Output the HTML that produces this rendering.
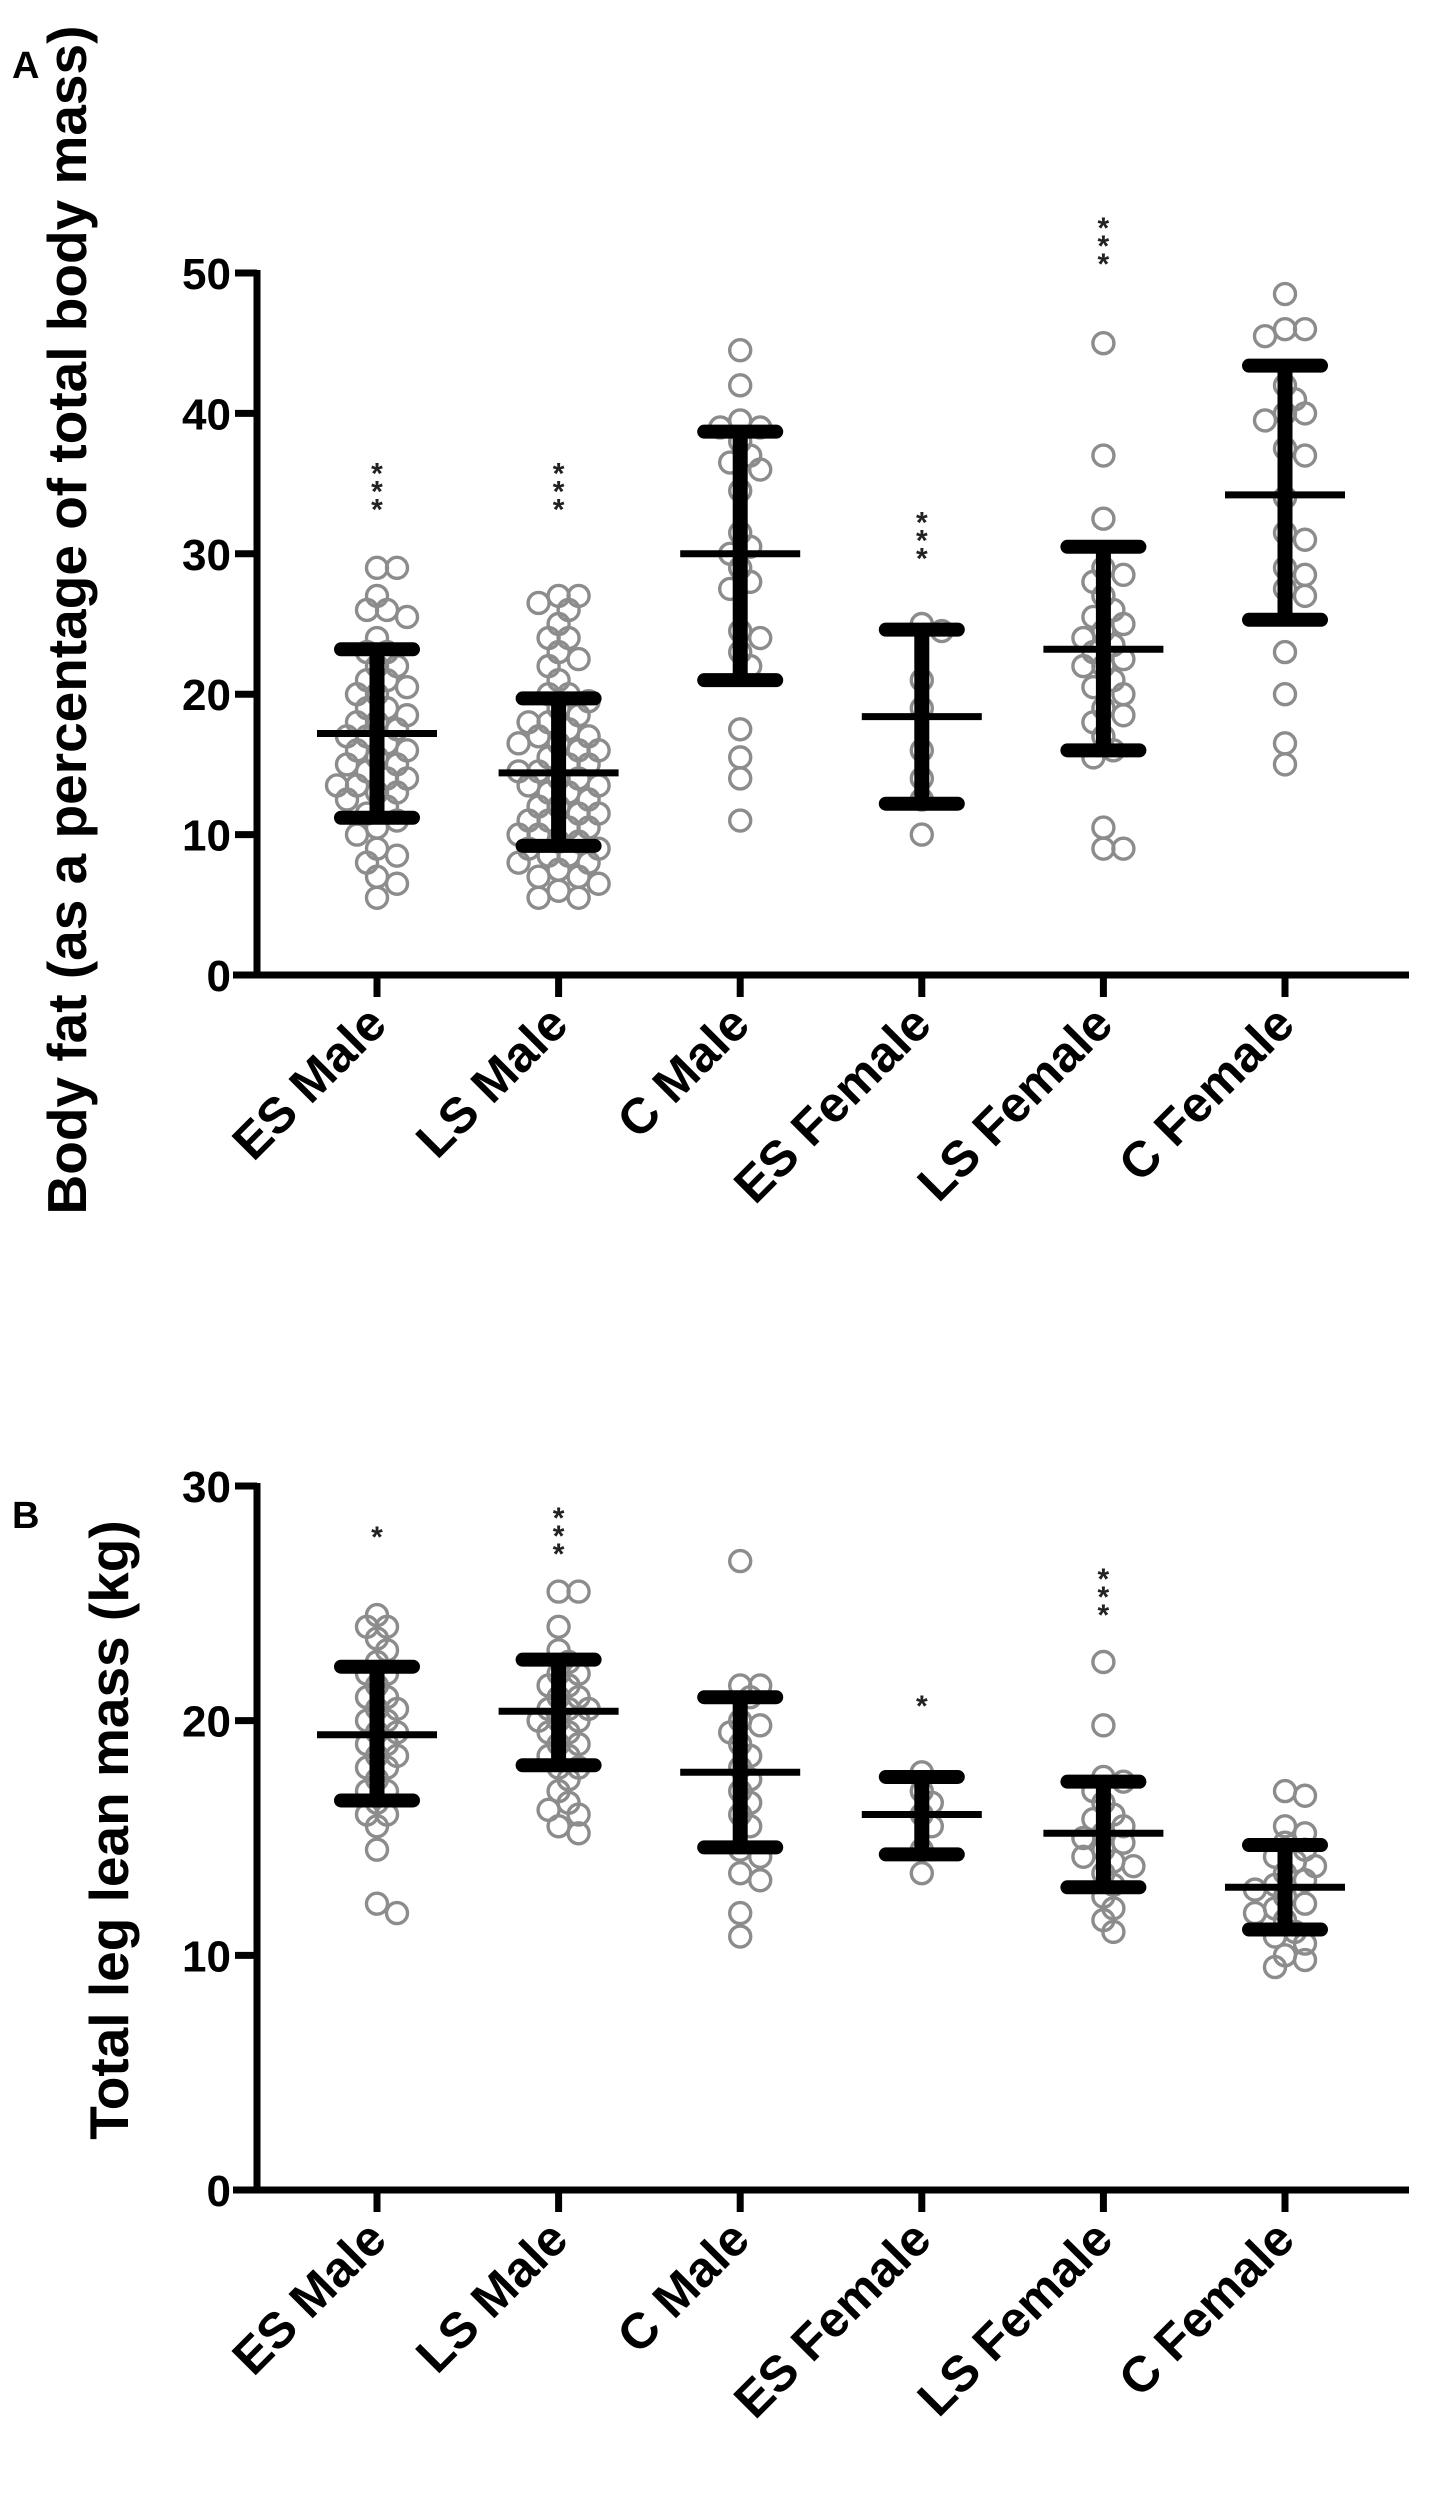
<!DOCTYPE html>
<html><head><meta charset="utf-8"><style>
html,body{margin:0;padding:0;background:#fff;width:1449px;height:2500px;overflow:hidden}
svg{display:block;font-family:"Liberation Sans",Arial,sans-serif}
</style></head><body>
<svg id="fig" width="1449" height="2500" viewBox="0 0 1449 2500"></svg>
<script>
const categories = ["ES Male","LS Male","C Male","ES Female","LS Female","C Female"];
// Panel A data
const fatMean = [17.2,14.4,30.0,18.4,23.2,34.2];
const fatLow  = [11.2,9.2,21.0,12.2,16.0,25.3];
const fatHigh = [23.2,19.7,38.7,24.6,30.5,43.4];
const fatStars = ["***","***","","***","***",""];
const fatStarY = [36,36,0,32.5,53.5,0];
const fatPts0 = [29,29,27,26,26,25.5,24,23,23,22,22,21,21,20.5,20,20,19,19,18.5,18,18,17.5,17,17,16.5,16,16,15.5,15,15,14.5,14,14,13.5,13.5,13,13,12.5,12,11.5,11,10.5,10,9,8.5,8,7,6.5,5.5];
const fatPts1 = [27,27,26.5,26,25,24,24,23,22.5,22,21,20,20,19.5,19,18.5,18,18,17.5,17,17,16.5,16.5,16,16,15.5,15,15,14.5,14.5,14,14,13.5,13.5,13,13,12.5,12,12,11.5,11.5,11,11,10.5,10.5,10,10,9.5,9.5,9,9,8.5,8.5,8,8,7.5,7,7,6.5,6,5.5,5.5];
const fatPts2 = [44.5,42,39.5,39,39,38,37,36.5,36,34.5,31.5,30.5,30,29,28,27.5,24.5,24,23,22,17.5,15.5,14,11];
const fatPts3 = [25,24.5,21,19,16,14,12.5,10];
const fatPts4 = [45,37,32.5,29,28.5,28,27,26,25.5,25,24.5,24,23.5,23,22.5,22,22,21,20.5,20,19,18.5,18,17,16,15.5,10.5,9,9];
const fatPts5 = [48.5,46,46,45.5,42,41,40,40,39.5,37.5,37,34,31.5,31,29,28.5,27.5,27,23,20,16.5,15];
const fatTicks = [0,10,20,30,40,50];
// Panel B data
const legMean = [19.4,20.4,17.8,16.0,15.2,12.9];
const legLow  = [16.6,18.1,14.6,14.3,12.9,11.1];
const legHigh = [22.3,22.6,21.0,17.6,17.4,14.7];
const legStars = ["*","***","","*","***",""];
const legStarY = [28,28.8,0,20.8,26.2,0];
const legPts0 = [24.5,24,24,23.5,23,22.5,22,22,21.5,21,21,20.5,20.5,20,20,19.5,19.5,19,19,18.5,18.5,18,18,17.5,17,17,16.5,16,16,15.5,14.5,12.2,11.8];
const legPts1 = [25.5,25.5,24,23,22.5,22,22,21.5,21.5,21,21,20.5,20.5,20.5,20,20,20,19.5,19.5,19,19,18.5,18.5,18,18,17.5,17,16.5,16.2,16,15.5,15.2];
const legPts2 = [26.8,21.5,21.5,21,20,19.8,19.5,19,18.5,18,17.5,17,16.5,16,15.5,14.5,14.2,13.5,13.2,11.8,10.8];
const legPts3 = [17.8,17,16.5,16,15.5,14.5,13.5];
const legPts4 = [22.5,19.8,17.6,17.4,17,16.5,16,15.8,15.5,15.2,15,14.8,14.5,14.2,14,13.8,13.5,13,12.5,12,11.5,11];
const legPts5 = [17,16.8,15.5,15.2,14.8,14.5,14.2,14,13.8,13.5,13.2,13,12.8,12.5,12.2,12,11.8,11.5,11,10.8,10.5,10,9.8,9.5];
const legTicks = [0,10,20,30];

const NS="http://www.w3.org/2000/svg";
const svg=document.getElementById('fig');
function mk(tag,attrs,parent){const e=document.createElementNS(NS,tag);for(const k in attrs)e.setAttribute(k,attrs[k]);(parent||svg).appendChild(e);return e;}

function panel(cfg){
  const g=mk('g',{});
  
  
  const x0=257,x1=1409;
  const xs=i=>377+i*181.6;
  const ys=v=>cfg.y0-(v-cfg.vmin)/(cfg.vmax-cfg.vmin)*(cfg.y0-cfg.yTop);
  cfg.pts.forEach((arr,i)=>{
    const placed=[];
    arr.forEach(v=>{
      const y=ys(v);let off=0;
      for(let k=0;k<40;k++){
        const o=(k%2?1:-1)*Math.ceil(k/2)*10;
        if(placed.every(p=>Math.hypot(p[0]-o,p[1]-y)>=15)){off=o;break;}
      }
      placed.push([off,y]);
      const c=mk('circle',{cx:xs(i)+off,cy:y,r:10.5,fill:'none',stroke:'#8c8c8c','stroke-width':3.4},g);
      
      
    });
  });
  categories.forEach((c,i)=>{
    const x=xs(i);
    const eb=mk('g',{},g);
    
    
    mk('line',{x1:x,x2:x,y1:ys(cfg.low[i]),y2:ys(cfg.high[i]),stroke:'#000','stroke-width':15},eb);
    mk('line',{x1:x-36,x2:x+36,y1:ys(cfg.low[i]),y2:ys(cfg.low[i]),stroke:'#000','stroke-width':14,'stroke-linecap':'round'},eb);
    mk('line',{x1:x-36,x2:x+36,y1:ys(cfg.high[i]),y2:ys(cfg.high[i]),stroke:'#000','stroke-width':14,'stroke-linecap':'round'},eb);
    const m=mk('line',{x1:x-60,x2:x+60,y1:ys(cfg.mean[i]),y2:ys(cfg.mean[i]),stroke:'#000','stroke-width':7},g);
    
    
    if(cfg.stars[i]){
      const n=cfg.stars[i].length;
      for(let s=0;s<n;s++){
        const t=mk('text',{x:x,y:ys(cfg.starY[i])+s*18+14,'text-anchor':'middle','font-size':30,'font-weight':'bold',fill:'#222'},g);
        t.textContent='*';
        
        
      }
    }
    mk('line',{x1:x,x2:x,y1:cfg.y0,y2:cfg.y0+22,stroke:'#000','stroke-width':7},g);
    const lx=x+12,ly=cfg.y0+52;
    const lab=mk('text',{x:lx,y:ly,transform:`rotate(-45 ${lx} ${ly})`,'text-anchor':'end','font-size':50,'font-weight':'bold',fill:'#000'},g);
    lab.textContent=c;
    
    
  });
  const ya=mk('line',{x1:x0,x2:x0,y1:cfg.yTop-3,y2:cfg.y0+3,stroke:'#000','stroke-width':7},g);
  
  
  const xa=mk('line',{x1:x0-24,x2:x1,y1:cfg.y0,y2:cfg.y0,stroke:'#000','stroke-width':7},g);
  
  
  cfg.ticks.forEach(v=>{
    const y=ys(v);
    mk('line',{x1:x0-22,x2:x0,y1:y,y2:y,stroke:'#000','stroke-width':7},g);
    const t=mk('text',{x:x0-26,y:y+16,'text-anchor':'end','font-size':44,'font-weight':'bold',fill:'#000'},g);
    t.textContent=v;
    
    
  });
  const tt=mk('text',{x:cfg.titleX,y:cfg.titleY,transform:`rotate(-90 ${cfg.titleX} ${cfg.titleY})`,'text-anchor':'middle','font-size':cfg.titleSize,'font-weight':'bold',fill:'#000'},g);
  tt.textContent=cfg.title;
  
  
  const pl=mk('text',{x:12,y:cfg.letterY,'font-size':38,'font-weight':'bold',fill:'#000'},g);
  pl.textContent=cfg.letter;
  
  
}

panel({name:'panel-a-body-fat',y0:975,yTop:273,vmin:0,vmax:50,mean:fatMean,low:fatLow,high:fatHigh,stars:fatStars,starY:fatStarY,
  pts:[fatPts0,fatPts1,fatPts2,fatPts3,fatPts4,fatPts5],ticks:fatTicks,
  title:'Body fat (as a percentage of total body mass)',titleX:86,titleY:620,titleSize:55,letter:'A',letterY:78});
panel({name:'panel-b-leg-lean-mass',y0:2190,yTop:1486,vmin:0,vmax:30,mean:legMean,low:legLow,high:legHigh,stars:legStars,starY:legStarY,
  pts:[legPts0,legPts1,legPts2,legPts3,legPts4,legPts5],ticks:legTicks,
  title:'Total leg lean mass (kg)',titleX:128,titleY:1830,titleSize:55,letter:'B',letterY:1528});
</script>
</body></html>
